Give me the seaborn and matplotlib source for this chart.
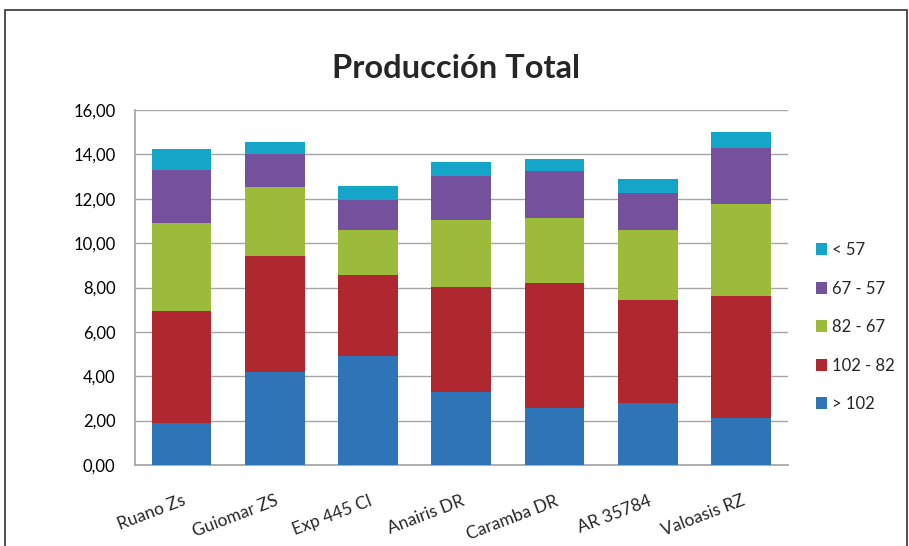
import numpy as np
import pandas as pd
import matplotlib
matplotlib.use("Agg")
import matplotlib.pyplot as plt
import seaborn as sns
from matplotlib.patches import Patch, Rectangle
from matplotlib.ticker import FuncFormatter

variedades = ["Ruano Zs", "Guiomar ZS", "Exp 445 Cl", "Anairis DR",
              "Caramba DR", "AR 35784", "Valoasis RZ"]
# stacked segments, bottom to top
mayor_102 = [1.91, 4.18, 4.91, 3.28, 2.55, 2.78, 2.10]
r102_82 = [5.05, 5.26, 3.65, 4.74, 5.65, 4.64, 5.53]
r82_67 = [3.93, 3.11, 2.03, 3.02, 2.93, 3.19, 4.12]
r67_57 = [2.39, 1.45, 1.37, 1.97, 2.11, 1.66, 2.55]
menor_57 = [0.96, 0.57, 0.62, 0.63, 0.54, 0.62, 0.71]

series = ["> 102", "102 - 82", "82 - 67", "67 - 57", "< 57"]
colores = ["#2F74B6", "#B0282F", "#9CBB3A", "#75509D", "#14A5C8"]

df = pd.DataFrame({"variedad": variedades, "> 102": mayor_102, "102 - 82": r102_82,
                   "82 - 67": r82_67, "67 - 57": r67_57, "< 57": menor_57})
acum = df[series].cumsum(axis=1)

sns.set_theme(style="white")
plt.rcParams["font.family"] = ["Lato", "DejaVu Sans"]

fig = plt.figure(figsize=(9.09, 5.46), dpi=100)
ax = fig.add_axes([0.1485, 0.1484, 0.718, 0.650])

# draw cumulative totals from top segment down so each layer covers the previous
for serie, color in zip(series[::-1], colores[::-1]):
    sns.barplot(x=df["variedad"], y=acum[serie], color=color, width=0.64,
                saturation=1, linewidth=0, edgecolor="none", ax=ax, zorder=3)

ax.set_ylim(0, 16)
ax.set_xlim(-0.5, 6.5)
ax.set_yticks(np.arange(0, 17, 2))
ax.yaxis.set_major_formatter(FuncFormatter(lambda v, p: f"{v:.2f}".replace(".", ",")))
ax.grid(axis="y", color="#A6A6A6", linewidth=1, zorder=0)
ax.set_axisbelow(True)
for s in ["top", "right"]:
    ax.spines[s].set_visible(False)
ax.spines["left"].set_color("#A6A6A6")
ax.spines["bottom"].set_color("#A6A6A6")
ax.set_xlabel("")
ax.set_ylabel("")
ax.tick_params(axis="y", labelsize=12, pad=8, colors="#000000")
ax.tick_params(axis="x", labelsize=12.5, pad=14)
plt.setp(ax.get_xticklabels(), rotation=21, ha="right", rotation_mode="anchor")

fig.text(0.502, 0.875, "Producción Total", ha="center", va="center",
         fontsize=23.5, fontweight="bold")

handles = [Patch(facecolor=c, edgecolor="none") for c in colores[::-1]]
fig.legend(handles, ["< 57", "67 - 57", "82 - 67", "102 - 82", "> 102"],
           loc="center left", bbox_to_anchor=(0.881, 0.401),
           frameon=False, fontsize=12, handlelength=0.7, handleheight=0.7,
           handletextpad=0.25, labelspacing=1.35)

fig.patches.append(Rectangle((0.0055, -0.1), 0.9925, 1.0817, transform=fig.transFigure,
                             fill=False, edgecolor="#333333", linewidth=1.2))

fig.savefig("out.png", dpi=100)
